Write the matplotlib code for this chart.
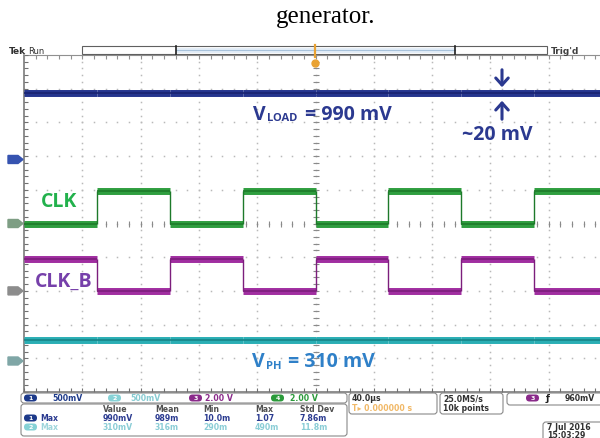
import numpy as np
import matplotlib.pyplot as plt
from matplotlib.patches import FancyBboxPatch, Rectangle, Polygon

# scope settings / readings
t_edges = [0, 50, 100, 150, 200, 250, 300, 350, 400]   # us, 40 us/div
clk_levels = [0, 1.9, 0, 1.9, 0, 1.9, 0, 1.9]          # V, ch4
clkb_levels = [1.9, 0, 1.9, 0, 1.9, 0, 1.9, 0]         # V, ch3
v_load = 0.99                                          # V, ch1
v_ph = 0.31                                            # V, ch2

volts_per_div = {"1": 0.5, "2": 0.5, "3": 2.0, "4": 2.0}
offsets = {"1": 6.9, "2": 0.92, "3": 3.0, "4": 5.0}   # ground marker, div

meas_cols = ["Value", "Mean", "Min", "Max", "Std Dev"]
meas_ch1 = ["990mV", "989m", "10.0m", "1.07", "7.86m"]
meas_ch2 = ["310mV", "316m", "290m", "490m", "11.8m"]

W, H = 600, 439
fig = plt.figure(figsize=(6, 4.39), dpi=100)

# graticule axes (10 x 10 div, right edge cut by the screenshot)
ax = fig.add_axes([24 / W, (H - 393) / H, (607 - 24) / W, (393 - 56) / H])
ax.set_xlim(0, 400)
ax.set_ylim(0, 10)
ax.axis("off")

sub_y = np.arange(0, 10.01, 0.2)
sub_x = np.arange(0, 400.1, 8)
for j in range(1, 10):
    ax.plot([j * 40] * len(sub_y), sub_y, ls="none", marker="s", ms=1.1,
            color="#b9b9b9", mec="none")
    ax.plot(sub_x, [j] * len(sub_x), ls="none", marker="s", ms=1.1,
            color="#b9b9b9", mec="none")
ax.plot([200] * len(sub_y), sub_y, ls="none", marker="_", ms=5, mew=0.8, color="#8a8a8a")
ax.plot(sub_x, [5] * len(sub_x), ls="none", marker="|", ms=5, mew=0.8, color="#8a8a8a")

ax.plot([0, 0], [0, 10], color="#707070", lw=1.1, clip_on=False)
ax.plot([0, 400], [10, 10], color="#909090", lw=0.8, clip_on=False)
ax.plot([0, 400], [0, 0], color="#707070", lw=1.1, clip_on=False)
ax.plot([0] * len(sub_y), sub_y, ls="none", marker=1, ms=3, mew=0.8, color="#707070")
ax.plot(sub_x, [10] * len(sub_x), ls="none", marker=3, ms=3, mew=0.8, color="#909090")
ax.plot(sub_x, [0] * len(sub_x), ls="none", marker=2, ms=3, mew=0.8, color="#707070")


def draw_step(levels, ch, color, dark):
    ys = offsets[ch] + np.array(levels) / volts_per_div[ch]
    ax.hlines(ys, t_edges[:-1], t_edges[1:], color=color, lw=5)
    ax.hlines(ys, t_edges[:-1], t_edges[1:], color=dark, lw=1.2)
    ax.vlines(t_edges[1:-1], ys[:-1], ys[1:], color=dark, lw=1)


draw_step([v_load] * 8, "1", "#25358e", "#1a2470")
draw_step(clk_levels, "4", "#2f9e3f", "#1d7a2a")
draw_step(clkb_levels, "3", "#a02ea0", "#7c1e7c")
draw_step([v_ph] * 8, "2", "#2aaeb4", "#178488")

# overlay in pixel coordinates
ov = fig.add_axes([0, 0, 1, 1])
ov.set_xlim(0, W)
ov.set_ylim(H, 0)
ov.axis("off")
ov.patch.set_visible(False)

ov.text(326, 17, "generator.", family="Liberation Serif", size=18,
        ha="center", va="center")

# channel ground markers
tab_colors = {"1": "#3653b0", "2": "#7fa6a6", "3": "#8c8c8c", "4": "#7e9e84"}
for ch, off in offsets.items():
    y = 393 - off * 33.7
    ov.add_patch(Polygon([(8, y - 4), (18, y - 4), (23, y), (18, y + 4), (8, y + 4)],
                         closed=True, color=tab_colors[ch]))

# top status bar
ov.text(9, 51, "Tek", size=6.5, weight="bold", color="#303030", va="center")
ov.text(28, 51, "Run", size=6, color="#303030", va="center")
ov.add_patch(Rectangle((82, 47), 465, 8, fc="white", ec="#606060", lw=0.8))
ov.add_patch(Rectangle((176, 48.5), 279, 5, fc="#e3edf7", ec="none"))
ov.plot([176, 455], [51, 51], color="#a9c3dc", lw=0.8)
ov.plot([176, 176], [47, 55], color="#202020", lw=1.2)
ov.plot([455, 455], [47, 55], color="#202020", lw=1.2)
ov.text(551, 51, "Trig'd", size=6.5, weight="bold", color="#404040", va="center")
ov.plot([315, 315], [46, 58], color="#e9a232", lw=1.6)
ov.plot([315], [64], marker="o", ms=5, color="#e9a232")

# annotations
navy = "#2b3990"
ov.text(253, 115, "V", size=14, weight="bold", color=navy, family="Open Sans", va="center")
ov.text(267, 119, "LOAD", size=8, weight="bold", color=navy, family="Open Sans", va="center")
ov.text(305, 115, "= 990 mV", size=14, weight="bold", color=navy, family="Open Sans", va="center")
ov.annotate("", xy=(502, 91), xytext=(502, 68),
            arrowprops=dict(arrowstyle="->,head_length=0.5,head_width=0.45", color=navy, lw=2.2))
ov.annotate("", xy=(502, 99), xytext=(502, 123),
            arrowprops=dict(arrowstyle="->,head_length=0.5,head_width=0.45", color=navy, lw=2.2))
ov.text(462, 135, "~20 mV", size=14, weight="bold", color=navy, family="Open Sans", va="center")

ov.text(41, 202, "CLK", size=14, weight="bold", color="#22b14c", family="Open Sans", va="center")
ov.text(35, 282, "CLK_B", size=14, weight="bold", color="#7640aa", family="Open Sans", va="center")

vph = "#2f80c8"
ov.text(252, 362, "V", size=14, weight="bold", color=vph, family="Open Sans", va="center")
ov.text(266, 367, "PH", size=8, weight="bold", color=vph, family="Open Sans", va="center")
ov.text(288, 362, "= 310 mV", size=14, weight="bold", color=vph, family="Open Sans", va="center")

# bottom readout panel
def box(x0, y0, x1, y1):
    ov.add_patch(FancyBboxPatch((x0, y0), x1 - x0, y1 - y0,
                                boxstyle="round,pad=0,rounding_size=3",
                                fc="white", ec="#8a8a8a", lw=0.8))


def pill(x, y, num, color):
    ov.add_patch(FancyBboxPatch((x, y - 3.5), 13, 7, boxstyle="round,pad=0,rounding_size=3.5",
                                fc=color, ec="none"))
    ov.text(x + 6.5, y, num, size=4.5, weight="bold", color="white", ha="center", va="center")


fs = 5.6
box(21, 394, 347, 404)
ch_row = [("1", 24, 52, "500mV", "#1d3a8a", "#1d3a8a"),
          ("2", 108, 130, "500mV", "#86d2d6", "#86cbd2"),
          ("3", 189, 205, "2.00 V", "#8a2a8a", "#8a2a8a"),
          ("4", 271, 290, "2.00 V", "#2a9a3a", "#2a9a3a")]
for num, xp, xt, label, pc, tc in ch_row:
    pill(xp, 399, num, pc)
    ov.text(xt, 399, label, size=fs, weight="bold", color=tc, va="center")

box(349, 394, 437, 415)
ov.text(352, 399, "40.0\u00b5s", size=fs, weight="bold", color="#303030", va="center")
ov.text(352, 409, "T\u25b8 0.000000 s", size=fs, weight="bold", color="#f1b866", va="center")
box(440, 394, 503, 415)
ov.text(443, 399, "25.0MS/s", size=fs, weight="bold", color="#303030", va="center")
ov.text(443, 409, "10k points", size=fs, weight="bold", color="#303030", va="center")
box(507, 394, 612, 406)
pill(526, 399, "3", "#8a2a8a")
ov.text(546, 399, "\u0192", size=fs + 1, weight="bold", color="#202020", va="center")
ov.text(565, 399, "960mV", size=fs, weight="bold", color="#303030", va="center")

box(21, 405, 347, 437)
col_x = [103, 155, 203, 255, 300]
for x, name in zip(col_x, meas_cols):
    ov.text(x, 410, name, size=fs, weight="bold", color="#505050", va="center")
pill(24, 419, "1", "#1d3a8a")
ov.text(40, 419, "Max", size=fs, weight="bold", color="#2a3a90", va="center")
pill(24, 428, "2", "#86d2d6")
ov.text(40, 428, "Max", size=fs, weight="bold", color="#9fd6dc", va="center")
for x, a, b in zip(col_x, meas_ch1, meas_ch2):
    ov.text(x, 419, a, size=fs, weight="bold", color="#2a3a90", va="center")
    ov.text(x, 428, b, size=fs, weight="bold", color="#8acdd6", va="center")

box(543, 423, 615, 446)
ov.text(547, 428, "7 Jul 2016", size=fs, weight="bold", color="#303030", va="center")
ov.text(547, 436, "15:03:29", size=fs, weight="bold", color="#303030", va="center")

fig.savefig("out.png", dpi=100)
